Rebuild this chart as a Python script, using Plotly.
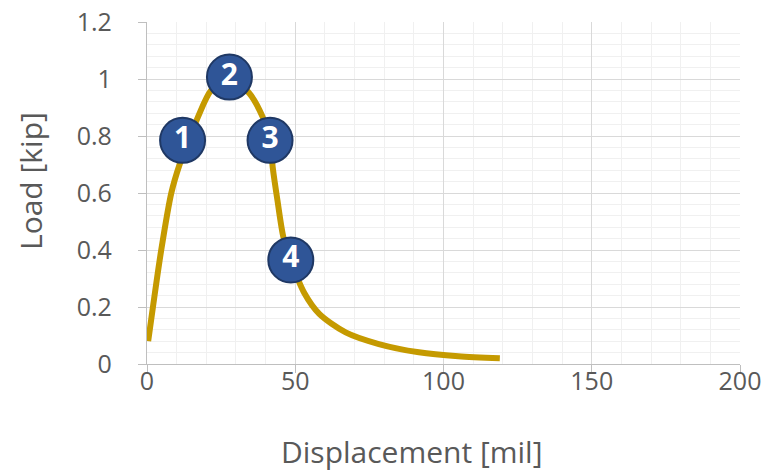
import plotly.graph_objects as go

# Load-displacement curve
disp = [0.4, 2.0, 4.8, 8.2, 11.0, 17.2, 21.6, 27.8, 34.5, 39.0, 41.5, 42.4, 44.0,
        46.0, 48.5, 53.0, 58.1, 67.0, 78.2, 91.7, 105.0, 119.0]
load = [0.08, 0.20, 0.40, 0.60, 0.70, 0.867, 0.96, 1.007, 0.95, 0.867, 0.785, 0.69, 0.574,
        0.445, 0.363, 0.25, 0.176, 0.111, 0.070, 0.041, 0.027, 0.020]

# Numbered stage markers
stage_x = [12.0, 27.8, 41.5, 48.5]
stage_y = [0.785, 1.007, 0.785, 0.365]
stage_labels = ["1", "2", "3", "4"]

x_ticks = [0, 50, 100, 150, 200]
y_ticks = [0, 0.2, 0.4, 0.6, 0.8, 1.0, 1.2]
y_tick_text = ["0", "0.2", "0.4", "0.6", "0.8", "1", "1.2"]

x_title = "Displacement [mil]"
y_title = "Load [kip]"

font_family = "Open Sans, Noto Sans, sans-serif"
gray = "#595959"

fig = go.Figure()
fig.add_trace(go.Scatter(
    x=disp, y=load, mode="lines",
    line=dict(color="#C59A00", width=6, shape="spline", smoothing=0.8),
    cliponaxis=False, hoverinfo="skip", showlegend=False,
))
fig.add_trace(go.Scatter(
    x=stage_x, y=stage_y, mode="markers+text",
    marker=dict(size=45, color="#2F5597", line=dict(color="#1F3864", width=2)),
    text=stage_labels, textposition="middle center",
    textfont=dict(family="Open Sans, sans-serif", size=30, color="white", weight="bold"),
    cliponaxis=False, showlegend=False,
))

fig.update_layout(
    width=770, height=475,
    margin=dict(l=147, r=30, t=22, b=111),
    paper_bgcolor="white", plot_bgcolor="white",
    font=dict(family=font_family, color=gray, size=25),
    xaxis=dict(
        range=[0, 200], tickvals=x_ticks, ticktext=[str(v) for v in x_ticks],
        showgrid=True, gridcolor="#D9D9D9", gridwidth=1.3,
        minor=dict(dtick=10, tick0=0, showgrid=True, gridcolor="#F0F0F0", gridwidth=1.3),
        showline=True, linecolor="#BFBFBF", linewidth=1.3,
        ticks="outside", ticklen=8, tickcolor="#BFBFBF",
        zeroline=False, automargin=False,
        tickfont=dict(size=25, color=gray),
        ticklabelstandoff=-13,
    ),
    yaxis=dict(
        range=[0, 1.2], tickvals=y_ticks, ticktext=y_tick_text,
        showgrid=True, gridcolor="#D9D9D9", gridwidth=1.3,
        minor=dict(dtick=0.04, tick0=0, showgrid=True, gridcolor="#F0F0F0", gridwidth=1.3),
        showline=True, linecolor="#BFBFBF", linewidth=1.3,
        ticks="outside", ticklen=8, tickcolor="#BFBFBF",
        zeroline=False, automargin=False,
        tickfont=dict(size=25, color=gray),
        ticklabelstandoff=21,
    ),
    annotations=[
        dict(text=x_title, xref="paper", yref="paper", x=0.4469, y=0,
             xanchor="center", yanchor="middle", yshift=-87, showarrow=False,
             font=dict(size=30, color=gray, family=font_family)),
        dict(text=y_title, xref="paper", yref="paper", x=0, y=0.535,
             xanchor="center", yanchor="middle", xshift=-117, textangle=-90,
             showarrow=False, font=dict(size=30, color=gray, family=font_family)),
    ],
)

fig.write_html("out.html", config={"displayModeBar": False},
               post_script="document.body.style.margin='0';")
